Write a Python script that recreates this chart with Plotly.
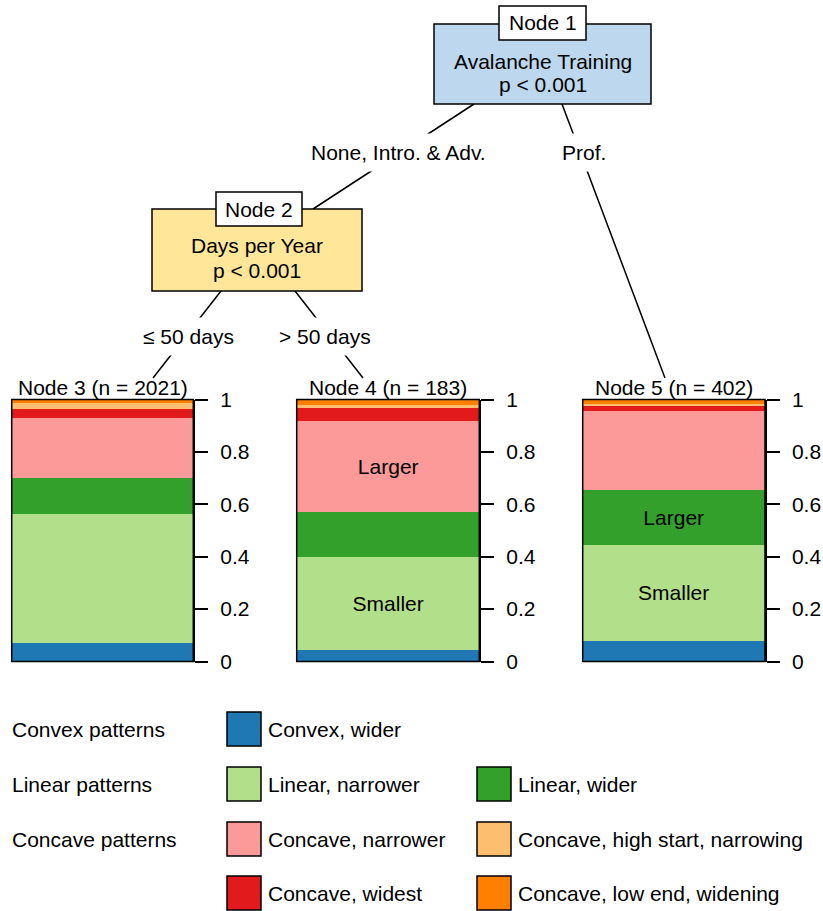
import plotly.graph_objects as go

# ---------------- data ----------------
categories = ["Convex, wider", "Linear, narrower", "Linear, wider",
              "Concave, narrower", "Concave, widest",
              "Concave, high start, narrowing", "Concave, low end, widening"]
colors = ["#1F78B4", "#B2DF8A", "#33A02C", "#FB9A99", "#E31A1C", "#FDBF6F", "#FF7F00"]

node_titles = ["Node 3 (n = 2021)", "Node 4 (n = 183)", "Node 5 (n = 402)"]
node3_props = [0.072, 0.494, 0.136, 0.229, 0.036, 0.022, 0.011]
node4_props = [0.044, 0.355, 0.175, 0.347, 0.047, 0.013, 0.019]
node5_props = [0.082, 0.366, 0.209, 0.300, 0.019, 0.010, 0.014]
node3_labels = ["", "", "", "", "", "", ""]
node4_labels = ["", "Smaller", "", "Larger", "", "", ""]
node5_labels = ["", "Smaller", "Larger", "", "", "", ""]

inner_nodes = ["Node 1", "Node 2"]
inner_vars = ["Avalanche Training", "Days per Year"]
inner_pvals = ["p < 0.001", "p < 0.001"]
inner_fill = ["#BDD7EE", "#FFE699"]
edge_labels = ["None, Intro. &amp; Adv.", "Prof.", "\u2264 50 days", "> 50 days"]

group_labels = ["Convex patterns", "Linear patterns", "Concave patterns"]
tick_vals = [0, 0.2, 0.4, 0.6, 0.8, 1]
tick_text = ["0", "0.2", "0.4", "0.6", "0.8", "1"]

# ---------------- layout helpers ----------------
W, H = 823, 911
FONT = "Liberation Sans, Arial, sans-serif"
FS = 21


def px(x):
    return x / W


def py(y):
    return 1 - y / H


def txt(size=FS):
    return dict(family=FONT, size=size, color="black")


fig = go.Figure()
shapes = []
annotations = []

# terminal bar panels
bar_px = [(11.7, 193.3), (296.7, 479.3), (582.7, 765.0)]
bar_top, bar_bot = 399.5, 661.5
props = [node3_props, node4_props, node5_props]
labels = [node3_labels, node4_labels, node5_labels]

layout_axes = {}
for i in range(3):
    sfx = "" if i == 0 else str(i + 1)
    for j, cat in enumerate(categories):
        fig.add_trace(go.Bar(
            x=[0], y=[props[i][j]], name=cat,
            marker=dict(color=colors[j], line=dict(width=0)),
            text=[labels[i][j]], textposition="inside",
            insidetextanchor="middle", textangle=0,
            textfont=txt(), constraintext="none",
            showlegend=False, hoverinfo="name+y",
            xaxis="x" + sfx, yaxis="y" + sfx, width=1,
        ))
    layout_axes["xaxis" + sfx] = dict(
        domain=[px(bar_px[i][0]), px(bar_px[i][1])], range=[-0.5, 0.5],
        visible=False, anchor="y" + sfx, fixedrange=True, automargin=False)
    layout_axes["yaxis" + sfx] = dict(
        domain=[py(bar_bot), py(bar_top)], range=[0, 1], side="right",
        anchor="x" + sfx, showgrid=False, zeroline=False, automargin=False,
        showline=True, linecolor="black", linewidth=1.5,
        ticks="outside", ticklen=13, tickwidth=1.5, tickcolor="black",
        tickvals=tick_vals, ticktext=tick_text, ticklabelstandoff=8,
        tickfont=txt(), fixedrange=True)
    shapes.append(dict(type="rect", xref="x" + sfx + " domain", yref="y" + sfx + " domain",
                       x0=0, x1=1, y0=0, y1=1, line=dict(color="black", width=1.5),
                       layer="above"))
    annotations.append(dict(x=px((bar_px[i][0] + bar_px[i][1]) / 2), y=py(387),
                            xref="paper", yref="paper", text=node_titles[i],
                            showarrow=False, xanchor="center", yanchor="middle",
                            font=txt()))

# edges
edges_px = [((474, 104), (313, 209)), ((562, 104), (665, 378)),
            ((221, 291), (153, 378)), ((295, 291), (363, 378))]
edge_label_pos = [(398, 153), (584, 153), (188, 336), (325, 336)]
for (a, b) in edges_px:
    shapes.append(dict(type="line", xref="paper", yref="paper",
                       x0=px(a[0]), y0=py(a[1]), x1=px(b[0]), y1=py(b[1]),
                       line=dict(color="black", width=1.5)))
for lab, (x, y) in zip(edge_labels, edge_label_pos):
    annotations.append(dict(x=px(x), y=py(y), xref="paper", yref="paper", text=lab,
                            showarrow=False, xanchor="center", yanchor="middle",
                            bgcolor="white", borderpad=7, font=txt()))

# inner nodes
box_px = [(434, 24, 651, 104), (152, 209, 362, 291)]
tag_px = [(499, 6, 586, 40), (216, 192, 302, 226)]
var_y = [(61, 84), (245, 270)]
for k in range(2):
    x0, y0, x1, y1 = box_px[k]
    shapes.append(dict(type="rect", xref="paper", yref="paper",
                       x0=px(x0), x1=px(x1), y0=py(y1), y1=py(y0),
                       fillcolor=inner_fill[k], line=dict(color="black", width=1.5)))
    tx0, ty0, tx1, ty1 = tag_px[k]
    shapes.append(dict(type="rect", xref="paper", yref="paper",
                       x0=px(tx0), x1=px(tx1), y0=py(ty1), y1=py(ty0),
                       fillcolor="white", line=dict(color="black", width=1.5)))
    annotations.append(dict(x=px((tx0 + tx1) / 2), y=py((ty0 + ty1) / 2),
                            xref="paper", yref="paper", text=inner_nodes[k],
                            showarrow=False, xanchor="center", yanchor="middle",
                            font=txt()))
    cx = (x0 + x1) / 2
    annotations.append(dict(x=px(cx), y=py(var_y[k][0]), xref="paper", yref="paper",
                            text=inner_vars[k], showarrow=False, xanchor="center",
                            yanchor="middle", font=txt()))
    annotations.append(dict(x=px(cx), y=py(var_y[k][1]), xref="paper", yref="paper",
                            text=inner_pvals[k], showarrow=False, xanchor="center",
                            yanchor="middle", font=txt()))

# legend
row_y = [729, 784, 839, 893]
col_x = [227, 477]
legend_pos = [(0, 0), (1, 0), (1, 1), (2, 0), (3, 0), (2, 1), (3, 1)]  # (row, col)
sw = 34
for j, cat in enumerate(categories):
    r, c = legend_pos[j]
    x0 = col_x[c]
    yc = row_y[r]
    shapes.append(dict(type="rect", xref="paper", yref="paper",
                       x0=px(x0), x1=px(x0 + sw), y0=py(yc + sw / 2), y1=py(yc - sw / 2),
                       fillcolor=colors[j], line=dict(color="black", width=1.5)))
    annotations.append(dict(x=px(x0 + sw + 5), y=py(yc), xref="paper", yref="paper",
                            text=cat, showarrow=False, xanchor="left", yanchor="middle",
                            font=txt()))
for r, g in enumerate(group_labels):
    annotations.append(dict(x=px(10), y=py(row_y[r]), xref="paper", yref="paper",
                            text=g, showarrow=False, xanchor="left", yanchor="middle",
                            font=txt()))

fig.update_layout(
    template="none",
    width=W, height=H, autosize=False,
    margin=dict(l=0, r=0, t=0, b=0, pad=0),
    paper_bgcolor="white", plot_bgcolor="white",
    barmode="stack", bargap=0, showlegend=False,
    shapes=shapes, annotations=annotations,
    font=txt(),
    **layout_axes,
)

fig.write_html("out.html", config={"displayModeBar": False},
               post_script="document.body.style.margin='0';")
